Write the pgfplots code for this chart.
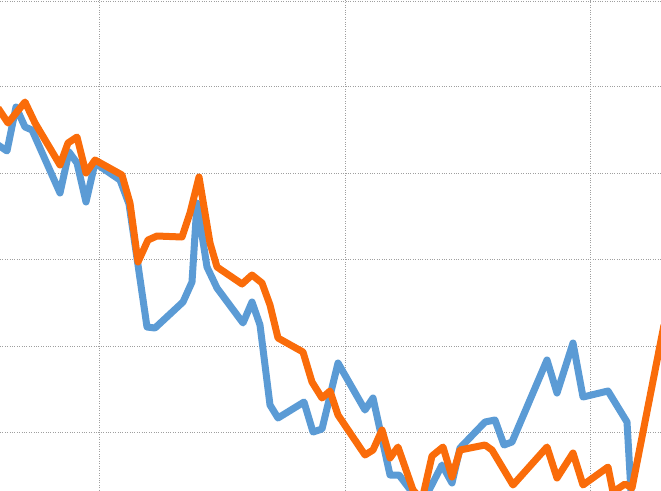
\documentclass[border=0pt]{standalone}
\usepackage{pgfplots}
\pgfplotsset{compat=1.18}
\definecolor{cblue}{RGB}{91,155,213}
\definecolor{corange}{RGB}{250,108,10}
\begin{document}
\begin{tikzpicture}
\begin{axis}[name=ax,
  scale only axis, width=661pt, height=490pt,
  xmin=0, xmax=661, ymin=0, ymax=490, y dir=reverse,
  axis line style={draw=none},
  xtick={99,345,590}, ytick={1,86,173,259,346,432},
  xticklabels={}, yticklabels={}, major tick length=0pt,
  grid=major, grid style={gray!75, dotted, line width=0.9pt},
  clip=true]
\addplot[cblue, line width=7pt, line join=round] coordinates {
(-2,145) (7,151) (16,107) (25,127) (32,130) (60,193) (69,152) (77,163) (86,202) (95,163)
(120,180) (129,204) (138,265) (147,327) (155,328) (183,302) (192,282) (197,203) (207,267)
(217,288) (243,323) (252,302) (260,325) (270,405) (278,418) (304,402) (313,432) (322,429)
(338,363) (365,410) (373,398) (390,475) (399,475) (412,492) (424,500) (442,465) (452,483)
(460,448) (485,422) (495,420) (504,445) (512,442) (547,360) (557,393) (573,343) (583,397)
(608,391) (627,422) (631,492) (636,500)
};
\addplot[corange, line width=7pt, line join=round] coordinates {
(-2,108) (8,123) (25,102) (35,123) (60,165) (68,143) (77,137) (86,173) (95,160)
(122,175) (130,203) (138,262) (148,240) (157,236) (182,237) (190,213) (199,177) (210,243)
(217,267) (242,284) (252,275) (262,283) (270,305) (278,338) (303,352) (312,382) (322,398)
(330,391) (338,415) (365,455) (373,450) (382,430) (390,458) (398,447) (413,490) (422,500)
(432,456) (443,447) (452,477) (460,450) (485,445) (492,450) (513,485) (547,447) (557,478)
(573,453) (583,485) (608,467) (613,492) (625,484) (632,488) (664,325)
};
\end{axis}
\pgfresetboundingbox
\path (ax.south west) rectangle (ax.north east);
\end{tikzpicture}
\end{document}
